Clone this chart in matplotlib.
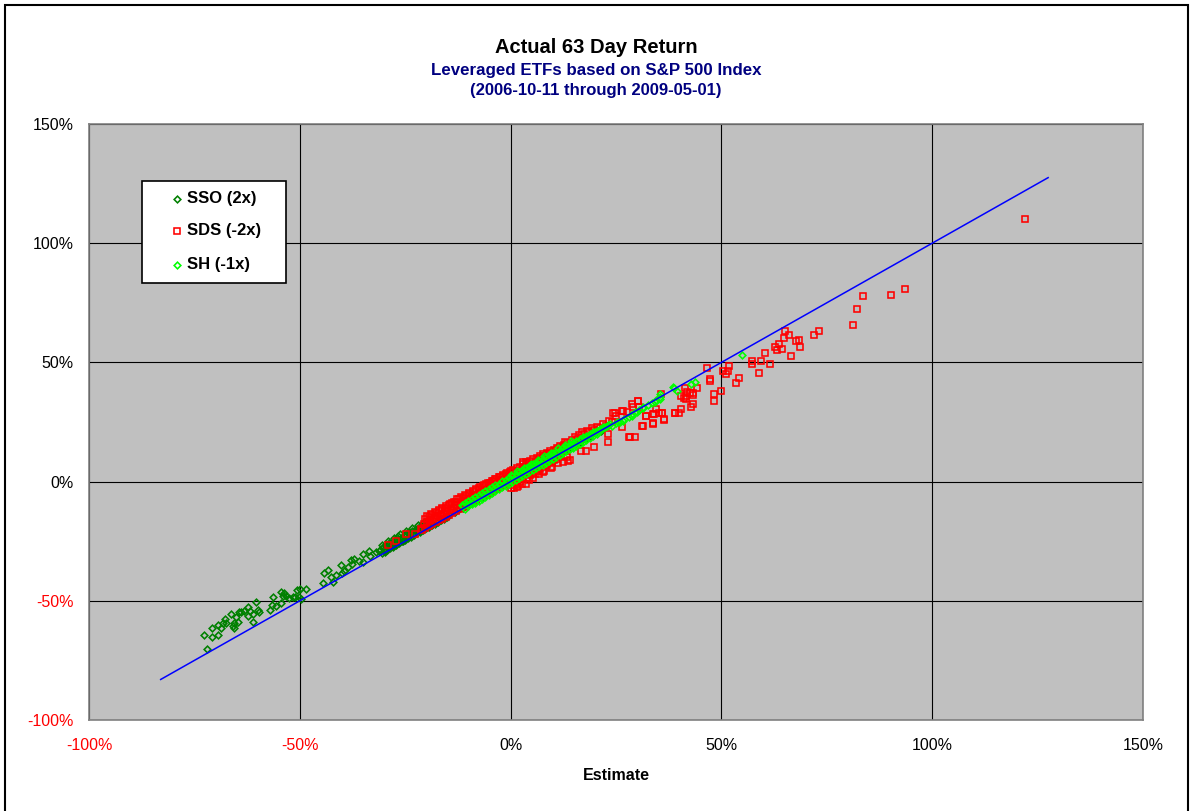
import matplotlib
matplotlib.use("Agg")
import matplotlib.pyplot as plt
from matplotlib.patches import Rectangle
from matplotlib.lines import Line2D
from matplotlib.ticker import FuncFormatter
import numpy as np

plt.rcParams['font.family'] = ['Liberation Sans', 'DejaVu Sans']

W, H = 1193, 811

# (estimate %, actual %)
sso = [
    (-72.1, -70.2), (-72.8, -64.3), (-70.9, -65.3), (-69.4, -64.3), (-70.9, -61.5),
    (-69.3, -60.1), (-68.7, -61.6), (-68.3, -59.5), (-67.5, -59.4), (-67.8, -57.7),
    (-66.3, -55.6), (-65.8, -60.5), (-65.5, -61.2), (-65.6, -59.2), (-64.6, -58.7),
    (-65.2, -56.6), (-64.5, -54.9), (-64.0, -54.6), (-63.2, -54.2), (-62.2, -52.8),
    (-61.8, -54.2), (-62.2, -56.2), (-61.0, -58.7), (-61.2, -55.6), (-60.4, -50.4),
    (-59.8, -53.8), (-59.6, -54.8), (-57.0, -53.8), (-56.5, -51.8), (-56.3, -48.6),
    (-55.7, -52.2), (-54.5, -46.1), (-54.5, -51.0), (-54.1, -47.9), (-53.8, -46.9),
    (-53.3, -47.9), (-52.5, -48.9), (-51.7, -48.6), (-51.1, -48.6), (-50.7, -45.5),
    (-49.9, -45.1), (-48.5, -45.1), (-50.1, -48.6), (-49.6, -49.3), (-44.4, -42.6),
    (-44.3, -38.5), (-43.2, -37.0), (-42.6, -40.2), (-42.2, -42.0), (-41.4, -39.1),
    (-40.2, -34.9), (-40.1, -38.4), (-39.4, -37.4), (-38.6, -36.0), (-37.8, -32.9),
    (-37.6, -34.6), (-37.1, -32.5), (-36.0, -33.5), (-35.1, -33.9), (-35.1, -30.4),
    (-33.7, -29.3), (-33.3, -31.1), (-31.9, -29.7), (-31.3, -29.0), (-29.9, -29.7),
    (-29.5, -26.9), (-28.9, -25.9), (-28.0, -27.3), (-27.2, -24.1), (-26.8, -22.7),
    (-25.6, -24.8), (-24.0, -21.3), (-22.8, -22.0), (-22.0, -20.3), (-20.8, -19.9),
]
sso_dense = [
    (-30.5, -26.5), (-29.0, -25.0), (-27.6, -23.6), (-26.2, -22.0), (-24.8, -20.8),
    (-23.4, -19.5), (-22.0, -18.2), (-20.6, -17.0),
    (-31.0, -28.6), (-30.3, -27.6), (-29.6, -27.1), (-28.9, -26.2), (-28.2, -25.8),
    (-27.5, -24.8), (-26.8, -24.4), (-26.1, -23.5), (-25.4, -23.0), (-24.7, -22.1),
    (-24.0, -21.6), (-23.3, -20.8), (-22.6, -20.2), (-21.9, -19.5), (-21.2, -18.8),
    (-20.5, -18.2), (-19.8, -17.7), (-19.1, -17.0),
    (-30.6, -30.0), (-29.9, -29.3), (-29.2, -28.6), (-28.5, -27.8), (-27.8, -27.2),
    (-27.1, -26.6), (-26.4, -25.8), (-25.7, -25.1), (-25.0, -24.5), (-24.3, -23.6),
    (-23.6, -23.1), (-22.9, -22.3), (-22.2, -21.7), (-21.5, -21.0), (-20.8, -20.1),
    (-20.1, -19.6), (-19.4, -18.9), (-18.7, -18.2), (-18.0, -17.6), (-17.3, -16.9),
    (-16.6, -16.1), (-15.9, -15.5), (-15.2, -14.8), (-14.5, -14.1),
    (-13.1, -12.7), (-12.2, -11.6), (-11.3, -10.9), (-10.4, -9.7), (-9.5, -8.9),
    (-8.6, -8.0), (-7.7, -7.1), (-6.8, -6.4), (-5.9, -5.4), (-5.0, -4.5),
    (-4.1, -3.6), (-3.2, -2.6), (-2.3, -1.8), (-1.4, -0.9), (-0.5, 0.1),
    (0.5, 0.9), (1.4, 1.9), (2.4, 2.8), (3.3, 3.9), (4.3, 4.7), (5.2, 5.8),
    (6.2, 6.6), (7.1, 7.6), (8.1, 8.5), (9.0, 9.5), (10.0, 10.4), (11.1, 11.4),
    (12.0, 12.6), (13.0, 13.3), (13.6, 15.1), (14.2, 14.6), (15.3, 15.6),
    (16.4, 16.7), (17.6, 17.8), (18.8, 19.0), (20.1, 20.2), (21.4, 21.3),
]

sds = [
    (122.1, 110.1), (93.6, 80.7), (90.2, 78.4), (83.5, 77.7), (82.2, 72.3),
    (81.3, 65.8), (73.2, 63.0), (72.0, 61.3), (65.2, 63.0), (66.1, 61.3),
    (64.8, 60.2), (63.7, 57.6), (62.7, 56.4), (63.3, 55.0), (64.3, 55.5),
    (67.6, 58.8), (68.3, 59.2), (68.6, 56.6), (66.4, 52.6), (60.3, 53.8),
    (59.3, 50.5), (57.2, 50.7), (57.2, 49.3), (61.5, 49.4), (59.0, 45.7),
    (51.9, 48.3), (50.4, 46.6), (51.5, 46.6), (51.2, 45.0), (54.1, 43.4),
    (53.4, 41.3), (47.4, 42.9), (47.3, 42.1), (46.6, 47.8), (49.8, 37.9),
    (48.2, 36.8), (48.2, 33.6), (44.1, 39.1), (41.4, 39.1), (41.9, 37.7),
    (42.5, 37.3), (43.2, 37.3), (43.3, 36.4), (41.6, 35.7), (40.3, 35.8),
    (41.1, 34.9), (41.7, 34.6), (43.3, 32.6), (42.7, 31.5), (40.5, 30.5),
    (39.9, 28.7), (39.0, 28.7), (35.6, 36.8), (35.9, 28.7), (34.6, 30.5),
    (35.1, 28.7), (34.0, 28.2), (33.7, 24.2), (32.1, 27.6), (31.3, 23.2),
    (36.4, 25.9), (30.2, 33.6), (29.0, 31.5), (29.5, 18.9), (28.1, 18.9),
    (26.5, 29.8), (24.3, 28.7), (24.9, 27.4), (27.6, 29.1), (39.0, 28.9),
    (36.3, 26.1), (35.8, 28.9), (33.8, 28.4), (33.7, 24.5), (32.2, 27.7),
    (31.2, 23.4), (30.5, 31.2), (30.1, 33.7), (28.7, 32.4), (26.7, 29.8),
    (26.5, 22.8), (24.7, 28.9), (28.3, 18.9), (23.2, 20.0), (23.1, 16.8),
    (19.8, 14.7), (18.0, 13.0), (16.8, 13.0), (14.0, 9.1), (13.4, 10.5),
    (13.6, 8.8), (9.9, 6.3), (7.7, 3.9), (5.9, 3.2), (3.7, -1.0),
    (1.4, -2.1), (0.2, -2.6), (2.9, 8.1), (3.7, 8.1),
    (-29.1, -26.6), (-27.1, -24.8), (-24.9, -22.0), (-22.6, -22.0), (-21.2, -19.9),
    (0.8, -2.6), (1.8, -1.9), (2.6, -1.0), (4.4, 0.8), (5.2, 1.4),
    (6.8, 3.0), (8.0, 4.4), (9.6, 5.6), (11.2, 7.6), (12.4, 8.2),
]
sds_dense = [
    # upper edge of the band
    (-19.8, -14.4), (-18.9, -13.5), (-18.0, -12.6), (-17.1, -11.9), (-16.2, -10.9),
    (-15.3, -10.1), (-14.4, -9.2), (-13.5, -8.4), (-12.6, -7.4), (-11.7, -6.6),
    (-10.8, -5.7), (-9.9, -4.8), (-9.0, -3.9), (-8.1, -3.1), (-7.2, -2.3),
    (-6.3, -1.4), (-5.4, -0.6), (-4.5, 0.3), (-3.6, 1.0), (-2.7, 1.9),
    (-1.8, 2.8), (-0.9, 3.6), (0.0, 4.4),
    (-20.2, -15.6), (-19.4, -14.9), (-18.6, -14.2), (-17.8, -13.1), (-17.0, -12.4),
    (-16.2, -11.5), (-15.4, -10.9), (-14.6, -10.0), (-13.8, -9.1), (-13.0, -8.4),
    (-12.2, -7.5), (-11.4, -6.8), (-10.6, -6.0), (-9.8, -5.1), (-9.0, -4.3),
    (-8.2, -3.6), (-7.4, -2.8), (-6.6, -2.0), (-5.8, -1.2), (-5.0, -0.6),
    (-4.2, 0.3), (-3.4, 1.1), (-2.6, 1.8), (-1.8, 2.5), (-1.0, 3.3),
    (-0.2, 4.2), (0.6, 4.8), (1.4, 5.6), (2.2, 6.3), (3.0, 7.2),
    (3.8, 7.8), (4.6, 8.6), (5.4, 9.3), (6.2, 10.0), (7.0, 10.8),
    (7.8, 11.5), (8.6, 12.1), (9.4, 12.9), (10.2, 13.4), (11.0, 14.2),
    (11.8, 14.9), (12.6, 15.5),
    # middle of the band
    (-20.6, -17.6), (-19.8, -16.8), (-19.0, -16.1), (-18.2, -15.3), (-17.4, -14.6),
    (-16.6, -13.9), (-15.8, -13.0), (-15.0, -12.3), (-14.2, -11.4), (-13.4, -10.7),
    (-12.6, -9.9), (-11.8, -9.0), (-11.0, -8.3), (-10.2, -7.4), (-9.4, -6.7),
    (-8.6, -5.9), (-7.8, -5.0), (-7.0, -4.3), (-6.2, -3.5), (-5.4, -2.6),
    (-4.6, -1.9), (-3.8, -1.1), (-3.0, -0.3), (-2.2, 0.5), (-1.4, 1.3),
    (-0.6, 2.0), (0.2, 2.9), (1.0, 3.6), (1.8, 4.5), (2.6, 5.2),
    (3.4, 6.0), (4.2, 6.8), (5.0, 7.5), (5.8, 8.4), (6.6, 9.1),
    (7.4, 9.9), (8.2, 10.6), (9.0, 11.4), (9.8, 12.1), (10.6, 12.9),
    (11.4, 13.6), (12.2, 14.4),
    # lower edge of the band
    (-21.0, -20.2), (-20.2, -19.5), (-19.4, -18.6), (-18.6, -17.9), (-17.8, -17.0),
    (-17.0, -16.3), (-16.2, -15.5), (-15.4, -14.7), (-14.6, -13.9), (-13.8, -13.1),
    (-13.0, -12.4), (-12.2, -11.5), (-11.4, -10.8), (-10.6, -10.0), (-9.8, -9.2),
    (-9.0, -8.5), (-8.2, -7.6), (-7.4, -6.9), (-6.6, -6.1), (-5.8, -5.3),
    (-5.0, -4.6), (-4.2, -3.7), (-3.4, -3.0), (-2.6, -2.2), (-1.8, -1.5),
    (-1.0, -0.7), (-0.2, -0.1), (0.6, -1.3), (1.4, -0.8), (2.2, -0.2),
    (3.0, 0.9), (3.8, 1.6), (4.6, 2.7), (5.4, 3.5), (6.2, 4.6),
    (7.0, 5.2), (7.8, 6.3), (8.6, 7.1), (9.4, 7.8), (10.2, 8.9),
    (11.0, 9.6), (11.8, 10.4),
    # cluster above the line
    (14.5, 17.6), (15.2, 18.9), (15.8, 17.9), (16.3, 19.6), (16.9, 20.6),
    (17.4, 19.8), (18.1, 21.4), (18.7, 20.7), (19.3, 22.6), (19.9, 21.8),
    (20.6, 23.1), (21.2, 22.4), (21.9, 24.1), (22.6, 23.5), (23.3, 25.4),
    (24.0, 24.8), (13.4, 16.2), (12.9, 16.8),
]

sh = [
    (24.0, 23.5), (25.0, 24.4), (25.5, 25.2), (26.0, 25.0),
    (26.7, 25.6), (27.0, 26.3), (28.0, 27.2), (28.7, 27.7), (28.5, 28.1),
    (29.5, 29.0), (29.9, 29.1), (30.5, 30.2), (31.4, 31.2), (31.5, 31.0),
    (32.5, 32.3), (33.5, 33.0), (34.2, 33.3), (34.5, 34.2), (35.4, 34.7),
    (35.5, 35.4), (35.4, 36.8), (38.7, 39.2), (39.4, 37.8), (38.6, 39.6),
    (42.7, 40.8), (43.7, 41.7), (54.8, 52.9),
]
sh_dense = [
    # top of the band
    (-11.6, -9.7), (-10.8, -8.8), (-10.0, -8.1), (-9.2, -7.2), (-8.4, -6.5),
    (-7.6, -5.6), (-6.8, -4.9), (-6.0, -4.0), (-5.2, -3.2), (-4.4, -2.4),
    (-3.6, -1.6), (-2.8, -0.8), (-2.0, 0.1), (-1.2, 0.8), (-0.4, 1.7),
    (0.4, 2.4), (1.2, 3.3), (2.0, 4.0), (2.8, 4.9), (3.6, 5.6),
    (4.4, 6.4), (5.2, 7.2), (6.0, 8.0), (6.8, 8.8), (7.6, 9.5),
    (8.4, 10.4), (9.2, 11.1), (10.0, 11.9), (10.8, 12.6), (11.6, 13.4),
    (12.4, 14.1), (13.2, 14.9), (14.0, 15.6), (14.8, 16.3), (15.6, 17.1),
    (16.4, 17.8), (17.2, 18.5), (18.0, 19.3), (18.8, 19.9), (19.6, 20.7),
    (20.4, 21.3), (21.2, 22.0), (22.0, 22.7), (22.8, 23.5), (23.6, 24.1),
    (0.0, 2.7), (1.6, 4.3), (3.2, 5.8), (4.8, 7.4), (6.4, 9.1),
    (8.0, 10.6), (9.6, 12.2), (11.2, 13.9), (12.8, 15.3), (14.4, 16.9),
    # middle of the band
    (-11.2, -10.4), (-10.4, -9.5), (-9.6, -8.8), (-8.8, -8.0), (-8.0, -7.2),
    (-7.2, -6.3), (-6.4, -5.6), (-5.6, -4.8), (-4.8, -3.9), (-4.0, -3.2),
    (-3.2, -2.4), (-2.4, -1.5), (-1.6, -0.8), (-0.8, 0.0), (0.0, 0.9),
    (0.8, 1.6), (1.6, 2.4), (2.4, 3.3), (3.2, 4.0), (4.0, 4.8),
    (4.8, 5.7), (5.6, 6.4), (6.4, 7.2), (7.2, 8.0), (8.0, 8.8),
    (8.8, 9.6), (9.6, 10.4), (10.4, 11.2), (11.2, 12.0), (12.0, 12.8),
    (12.8, 13.6), (13.6, 14.4), (14.4, 15.1), (15.2, 15.9), (16.0, 16.7),
    (16.8, 17.5), (17.6, 18.2), (18.4, 19.0), (19.2, 19.8), (20.0, 20.6),
    (20.8, 21.3), (21.6, 22.1), (22.4, 22.9), (23.2, 23.7),
    # bottom of the band
    (-10.8, -11.3), (-10.0, -10.4), (-9.2, -9.6), (-8.4, -8.9), (-7.6, -8.0),
    (-6.8, -7.2), (-6.0, -6.5), (-5.2, -5.6), (-4.4, -4.9), (-3.6, -4.0),
    (-2.8, -3.3), (-2.0, -2.4), (-1.2, -1.7), (-0.4, -0.8), (0.4, -0.1),
    (1.2, 0.8), (2.0, 1.5), (2.8, 2.4), (3.6, 3.1), (4.4, 3.9),
    (5.2, 4.8), (6.0, 5.5), (6.8, 6.4), (7.6, 7.1), (8.4, 7.9),
    (9.2, 8.8), (10.0, 9.5), (10.8, 10.4), (11.6, 11.1), (12.4, 11.9),
    (13.2, 12.8), (14.0, 13.5), (14.8, 14.3), (15.6, 15.1), (16.4, 15.9),
    (17.2, 16.8), (18.0, 17.5), (18.8, 18.3), (19.6, 19.1), (20.4, 19.9),
]

ref_line = [-83.0, 127.5]
ticks = [-100, -50, 0, 50, 100, 150]

fig = plt.figure(figsize=(W / 100, H / 100), dpi=100)
ax = fig.add_axes([89 / W, 1 - 720 / H, (1143 - 89) / W, (720 - 124) / H])
ax.set_facecolor('#C0C0C0')

sso_all = np.array(sso + sso_dense)
sds_all = np.array(sds + sds_dense)
sh_all = np.array(sh + sh_dense)

mk = dict(linestyle='none', markerfacecolor='none', markeredgewidth=1.15)
ax.plot(sso_all[:, 0], sso_all[:, 1], marker='D', markersize=3.4,
        markeredgecolor='#008000', **mk)
ax.plot(sds_all[:, 0], sds_all[:, 1], marker='s', markersize=4.3,
        markeredgecolor='#FF0000', **mk)
ax.plot(sh_all[:, 0], sh_all[:, 1], marker='D', markersize=3.4,
        markeredgecolor='#00FF00', **mk)
ax.plot(ref_line, ref_line, color='#0000FF', lw=1.1)

ax.set_xlim(-100, 150)
ax.set_ylim(-100, 150)
ax.set_xticks(ticks)
ax.set_yticks(ticks)
ax.grid(True, color='black', lw=0.8)
ax.set_axisbelow(True)
ax.tick_params(length=0, labelsize=11.5)
ax.tick_params(axis='x', pad=13)
ax.tick_params(axis='y', pad=11)
fmt = FuncFormatter(lambda v, p: f'{v:.0f}%')
ax.xaxis.set_major_formatter(fmt)
ax.yaxis.set_major_formatter(fmt)
for lab, t in zip(ax.get_xticklabels(), ticks):
    lab.set_color('#FF0000' if t < 0 else 'black')
for lab, t in zip(ax.get_yticklabels(), ticks):
    lab.set_color('#FF0000' if t < 0 else 'black')
for s in ax.spines.values():
    s.set_color('#808080')
    s.set_linewidth(1.2)

# titles
fig.text(596 / W, 1 - 47.7 / H, 'Actual 63 Day Return', ha='center', va='center',
         fontsize=14.5, fontweight='bold', color='black')
fig.text(596 / W, 1 - 71 / H, 'Leveraged ETFs based on S&P 500 Index', ha='center',
         va='center', fontsize=12.2, fontweight='bold', color='#000080')
fig.text(596 / W, 1 - 90.7 / H, '(2006-10-11 through 2009-05-01)', ha='center',
         va='center', fontsize=12, fontweight='bold', color='#000080')
fig.text(616 / W, 1 - 775 / H, 'Estimate', ha='center', va='center',
         fontsize=11.5, fontweight='bold')

# legend box
fig.add_artist(Rectangle((142 / W, 1 - 283 / H), 144 / W, 102 / H,
                         transform=fig.transFigure, facecolor='white',
                         edgecolor='black', lw=1.2))
entries = [('SSO (2x)', 'D', '#008000', 3.4, 199),
           ('SDS (-2x)', 's', '#FF0000', 4.3, 231),
           ('SH (-1x)', 'D', '#00FF00', 3.4, 265)]
for label, m, c, ms, yy in entries:
    fig.add_artist(Line2D([177 / W], [1 - yy / H], transform=fig.transFigure,
                          marker=m, markersize=ms, markerfacecolor='none',
                          markeredgecolor=c, markeredgewidth=1.15, linestyle='none'))
    fig.text(187 / W, 1 - yy / H, label, va='center', ha='left',
             fontsize=12, fontweight='bold')

# outer chart border
fig.add_artist(Rectangle((5 / W, -0.02), 1183 / W, 1.02 - 4.5 / H,
                         transform=fig.transFigure, facecolor='none',
                         edgecolor='black', lw=1.5))

fig.savefig('out.png', dpi=100)
